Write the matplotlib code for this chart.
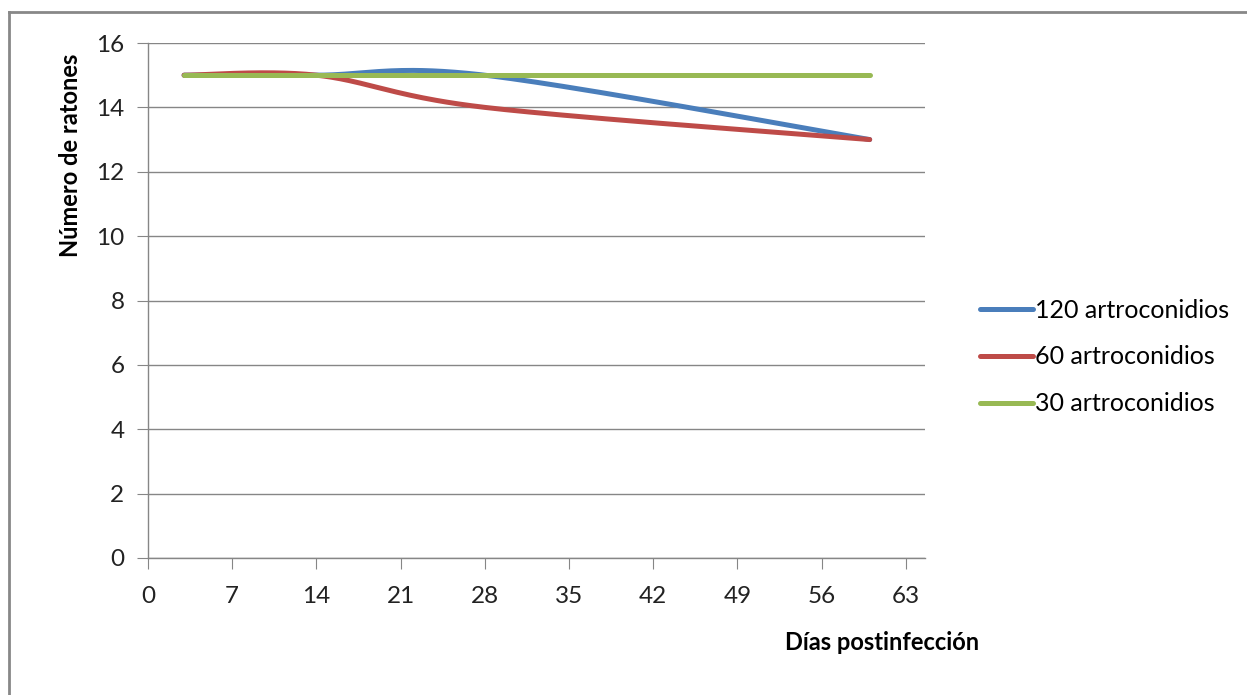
import numpy as np
import matplotlib.pyplot as plt
from matplotlib.lines import Line2D

# data
dias = [3, 14, 28, 60]
serie_120 = [15, 15, 15, 13]
serie_60 = [15, 15, 14, 13]
serie_30 = [15, 15, 15, 15]
etiquetas = ["120 artroconidios", "60 artroconidios", "30 artroconidios"]
colores = ["#4A7EBB", "#BE4B48", "#98B954"]
x_ticks = [0, 7, 14, 21, 28, 35, 42, 49, 56, 63]
y_ticks = [0, 2, 4, 6, 8, 10, 12, 14, 16]


def suavizar(x, y, n=60):
    # curva suavizada tipo Excel (Bezier con tangentes Catmull-Rom)
    p = np.column_stack([x, y]).astype(float)
    pts = [p[0:1]]
    for i in range(len(p) - 1):
        p0 = p[i - 1] if i > 0 else p[i]
        p1 = p[i]
        p2 = p[i + 1]
        p3 = p[i + 2] if i + 2 < len(p) else p[i + 1]
        c1 = p1 + (p2 - p0) / 6
        c2 = p2 - (p3 - p1) / 6
        t = np.linspace(0, 1, n)[1:, None]
        b = ((1 - t) ** 3) * p1 + 3 * ((1 - t) ** 2) * t * c1 + 3 * (1 - t) * t ** 2 * c2 + t ** 3 * p2
        pts.append(b)
    q = np.vstack(pts)
    return q[:, 0], q[:, 1]


plt.rcParams['font.family'] = ['Lato', 'DejaVu Sans']

fig = plt.figure(figsize=(12.47, 6.95), dpi=100)
ax = fig.add_axes([148 / 1247, 1 - 558 / 695, (925 - 148) / 1247, (558 - 43) / 695])

for serie, color, lab in zip([serie_120, serie_60, serie_30], colores, etiquetas):
    xs, ys = suavizar(dias, serie)
    ax.plot(xs, ys, color=color, lw=3.6, solid_capstyle='round', label=lab)

ax.set_xlim(0, 64.6)
ax.set_ylim(0, 16)
ax.set_xticks(x_ticks)
ax.set_yticks(y_ticks)
ax.yaxis.grid(True, color='#868686', lw=1)
ax.set_axisbelow(True)
for s in ['top', 'right']:
    ax.spines[s].set_visible(False)
for s in ['left', 'bottom']:
    ax.spines[s].set_color('#868686')
    ax.spines[s].set_linewidth(1)
ax.tick_params(axis='both', direction='out', length=8, color='#868686', labelsize=17.5, labelcolor='#222222')
ax.tick_params(axis='x', pad=12)
ax.tick_params(axis='y', pad=9)

fig.text(882 / 1247, 1 - 643 / 695, "Días postinfección", ha='center', va='center', fontsize=17, fontweight='bold')
fig.text(70 / 1247, 1 - 155 / 695, "Número de ratones", ha='center', va='center', rotation=90, fontsize=17, fontweight='bold')

handles = [Line2D([], [], color=c, lw=3.6, solid_capstyle='round') for c in colores]
fig.legend(handles, etiquetas, loc='center left', bbox_to_anchor=(980 / 1247, 1 - 357 / 695),
           frameon=False, fontsize=18, handlelength=2.1, handletextpad=0.1, labelspacing=0.95,
           borderpad=0, borderaxespad=0)

# borde del grafico
fig.add_artist(Line2D([9 / 1247, 9 / 1247], [0, 1 - 12 / 695], color='#888888', lw=2, transform=fig.transFigure))
fig.add_artist(Line2D([9 / 1247, 1], [1 - 12 / 695, 1 - 12 / 695], color='#888888', lw=2, transform=fig.transFigure))

fig.savefig("out.png", dpi=100)
